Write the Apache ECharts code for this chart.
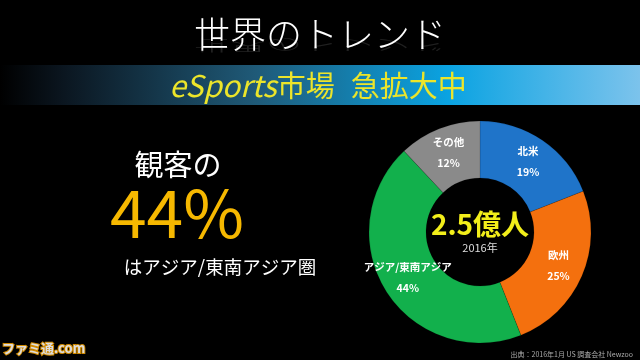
<!DOCTYPE html>
<html><head><meta charset="utf-8">
<script src="https://cdn.jsdelivr.net/npm/echarts@6/dist/echarts.min.js"></script>
<style>html,body{margin:0;padding:0;background:#000}#c{width:640px;height:360px}</style>
</head><body><div id="c"></div>
<script>
const categories = ['北米', '欧州', 'アジア/東南アジア', 'その他'];
const shares = [19, 25, 44, 12];
const colors = ['#1f74c9', '#f4700e', '#12b04c', '#8a8a8a'];
const centerValue = '2.5億人';
const centerYear = '2016年';
const FONT = '"Noto Sans CJK JP", "Noto Sans", sans-serif';

const chart = echarts.init(document.getElementById('c'));
chart.setOption({
  backgroundColor: '#000',
  animation: false,
  graphic: [
    { type: 'text', x: 320, y: 34, style: { text: '世界のトレンド', fill: '#fff', font: '300 36px ' + FONT, align: 'center', verticalAlign: 'middle' } },
    { type: 'text', x: 320, y: 53, scaleY: -0.45, originY: 0, style: { text: '世界のトレンド', fill: 'rgba(255,255,255,0.13)', font: '300 36px ' + FONT, align: 'center', verticalAlign: 'top' } },
    { type: 'rect', shape: { x: 0, y: 65, width: 640, height: 40 }, z: 5,
      style: { fill: new echarts.graphic.LinearGradient(0, 0, 1, 0, [
        { offset: 0, color: '#000000' }, { offset: 0.1, color: '#0b1620' }, { offset: 0.4, color: '#1f5a78' },
        { offset: 0.7, color: '#0aa3e2' }, { offset: 1, color: '#7cc3ec' }]) } },
    { type: 'text', x: 318, y: 86, z: 6, style: {
        text: '{i|eSports}{n|市場}{g| }{n|急拡大中}',
        align: 'center', verticalAlign: 'middle',
        rich: {
          i: { fill: '#ece52a', font: 'italic 30px ' + FONT },
          n: { fill: '#ece52a', font: '29px ' + FONT },
          g: { fill: '#ece52a', font: '29px ' + FONT, width: 16 }
        } } },
    { type: 'text', x: 178, y: 165, style: { text: '観客の', fill: '#fff', font: '29px ' + FONT, align: 'center', verticalAlign: 'middle' } },
    { type: 'text', x: 177, y: 213, style: { text: '44%', fill: '#f6b800', font: '66px ' + FONT, align: 'center', verticalAlign: 'middle' } },
    { type: 'text', x: 220, y: 267, style: { text: 'はアジア/東南アジア圏', fill: '#fff', font: '18.5px ' + FONT, align: 'center', verticalAlign: 'middle' } },
    { type: 'text', x: 480, y: 224, z: 10, style: { text: centerValue, fill: '#f2ee1a', font: 'bold 28px ' + FONT, align: 'center', verticalAlign: 'middle' } },
    { type: 'text', x: 480, y: 248, z: 10, style: { text: centerYear, fill: '#ddd', font: '11px ' + FONT, align: 'center', verticalAlign: 'middle' } },
    { type: 'text', x: 633, y: 354, style: { text: '出典：2016年1月 US 調査会社 Newzoo', fill: '#aaa', font: '7px ' + FONT, align: 'right', verticalAlign: 'middle' } },
    { type: 'text', x: 2, y: 348, style: { text: 'ファミ通.com', fill: '#ddd', stroke: '#d08a00', lineWidth: 2, font: 'bold 13px ' + FONT, verticalAlign: 'middle' } }
  ],
  series: [{
    type: 'pie',
    center: [480, 232],
    radius: [54, 111],
    startAngle: 90,
    clockwise: true,
    label: {
      position: 'inside',
      color: '#fff',
      fontFamily: FONT,
      fontWeight: 'bold',
      fontSize: 10.5,
      lineHeight: 21,
      formatter: p => p.name + '\n' + p.value + '%'
    },
    labelLine: { show: false },
    itemStyle: { borderColor: 'rgba(0,0,0,0.25)', borderWidth: 0.5 },
    emphasis: { disabled: true },
    data: categories.map((n, i) => ({ name: n, value: shares[i], itemStyle: { color: colors[i] } }))
  }]
});
</script></body></html>
